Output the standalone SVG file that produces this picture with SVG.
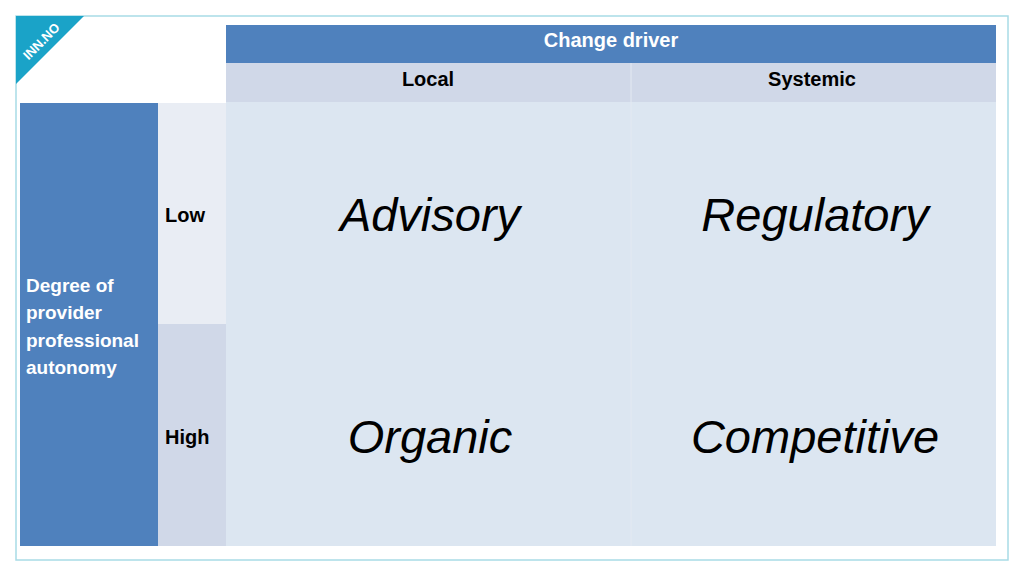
<svg xmlns="http://www.w3.org/2000/svg" width="1024" height="576" viewBox="0 0 1024 576">
<style>
text{font-family:"Liberation Sans",Arial,sans-serif}
.h{font-weight:bold;font-size:20px;fill:#fff}
.s{font-weight:bold;font-size:20px;fill:#000}
.b{font-style:italic;font-size:47px;fill:#000}
</style>
<rect width="1024" height="576" fill="#fff"/>
<rect x="16" y="16" width="992" height="544" fill="none" stroke="#a8dbe6" stroke-width="1.5"/>
<polygon points="16,16 84,16 16,84" fill="#1aa3c8"/>
<text x="41" y="41" transform="rotate(-45 41 41)" text-anchor="middle" style="font-weight:bold;font-size:13px;fill:#fff" dy="5">INN.NO</text>
<g id="header"><rect x="226" y="25" width="770" height="38" fill="#4f81bd"/><text class="h" x="611" y="47" text-anchor="middle">Change driver</text></g>
<g id="local"><rect x="226" y="63" width="405" height="39" fill="#d0d8e8"/><text class="s" x="428" y="86" text-anchor="middle">Local</text></g>
<g id="systemic"><rect x="631" y="63" width="365" height="39" fill="#d0d8e8"/><text class="s" x="812" y="86" text-anchor="middle">Systemic</text></g>
<g id="axis"><rect x="20" y="103" width="138" height="443" fill="#4f81bd"/>
<text class="h" x="26" y="292" style="font-size:19px">Degree of</text>
<text class="h" x="26" y="319" style="font-size:19px">provider</text>
<text class="h" x="26" y="347" style="font-size:19px">professional</text>
<text class="h" x="26" y="374" style="font-size:19px">autonomy</text></g>
<g id="low"><rect x="158" y="103" width="68" height="221" fill="#e9edf4"/><text class="s" x="165" y="222">Low</text></g>
<g id="high"><rect x="158" y="324" width="68" height="222" fill="#d0d8e8"/><text class="s" x="165" y="444">High</text></g>
<rect x="226" y="102" width="770" height="444" fill="#dce6f1"/>
<line x1="631" y1="63" x2="631" y2="546" stroke="#e3e9f2" stroke-width="1"/>
<g id="advisory"><text class="b" x="430" y="231" text-anchor="middle">Advisory</text></g>
<g id="regulatory"><text class="b" x="815" y="231" text-anchor="middle">Regulatory</text></g>
<g id="organic"><text class="b" x="430" y="453" text-anchor="middle">Organic</text></g>
<g id="competitive"><text class="b" x="815" y="453" text-anchor="middle">Competitive</text></g>
<g id="connectors"/>
</svg>
